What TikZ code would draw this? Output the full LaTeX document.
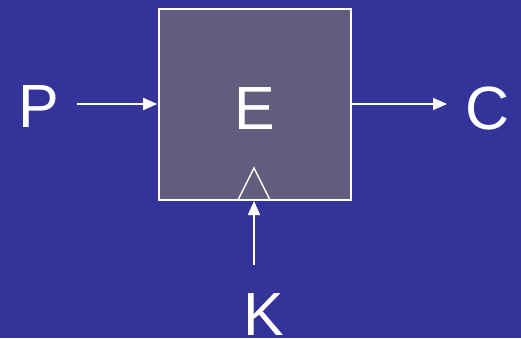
\documentclass[tikz,border=0pt]{standalone}
\usepackage{fontspec}
\setmainfont{Liberation Sans}
\usetikzlibrary{arrows.meta}
\definecolor{bgblue}{HTML}{333399}
\definecolor{boxfill}{HTML}{635C7E}
\begin{document}
\begin{tikzpicture}[x=1pt,y=1pt,
  lbl/.style={text=white,font=\fontsize{61}{61}\selectfont,inner sep=0pt,anchor=base},
  arr/.style={white,line width=1.6pt,-{Triangle[length=14pt,width=12pt]}},
  blockbox/.style={draw=white,line width=1.6pt,fill=boxfill,minimum width=192pt,minimum height=191pt,inner sep=0pt}]
\fill[bgblue] (0,0) rectangle (521,338);
\useasboundingbox (0,0) rectangle (521,338);
\node[blockbox] (E) at (255,233.5) {};
\node[lbl] (Etext) at (255,209) {E};
\node[lbl] (P) at (39,211) {P};
\node[lbl] (C) at (488,209) {C};
\node[lbl] (K) at (264,3) {K};
\coordinate (ps) at (77,234);
\coordinate (pe) at ([xshift=-1pt]E.west |- ps);
\draw[arr] (ps) -- (pe);
\coordinate (cs) at (E.east |- ps);
\coordinate (ce) at (447,234);
\draw[arr] (cs) -- (ce);
\coordinate (ks) at (254,73);
\coordinate (ke) at (254,137);
\draw[arr] (ks) -- (ke);
\coordinate (t1) at (238,138);
\coordinate (t2) at (254,170);
\coordinate (t3) at (270,138);
\draw[white,line width=1.4pt,line join=miter] (t1) -- (t2) -- (t3);
\end{tikzpicture}
\end{document}
